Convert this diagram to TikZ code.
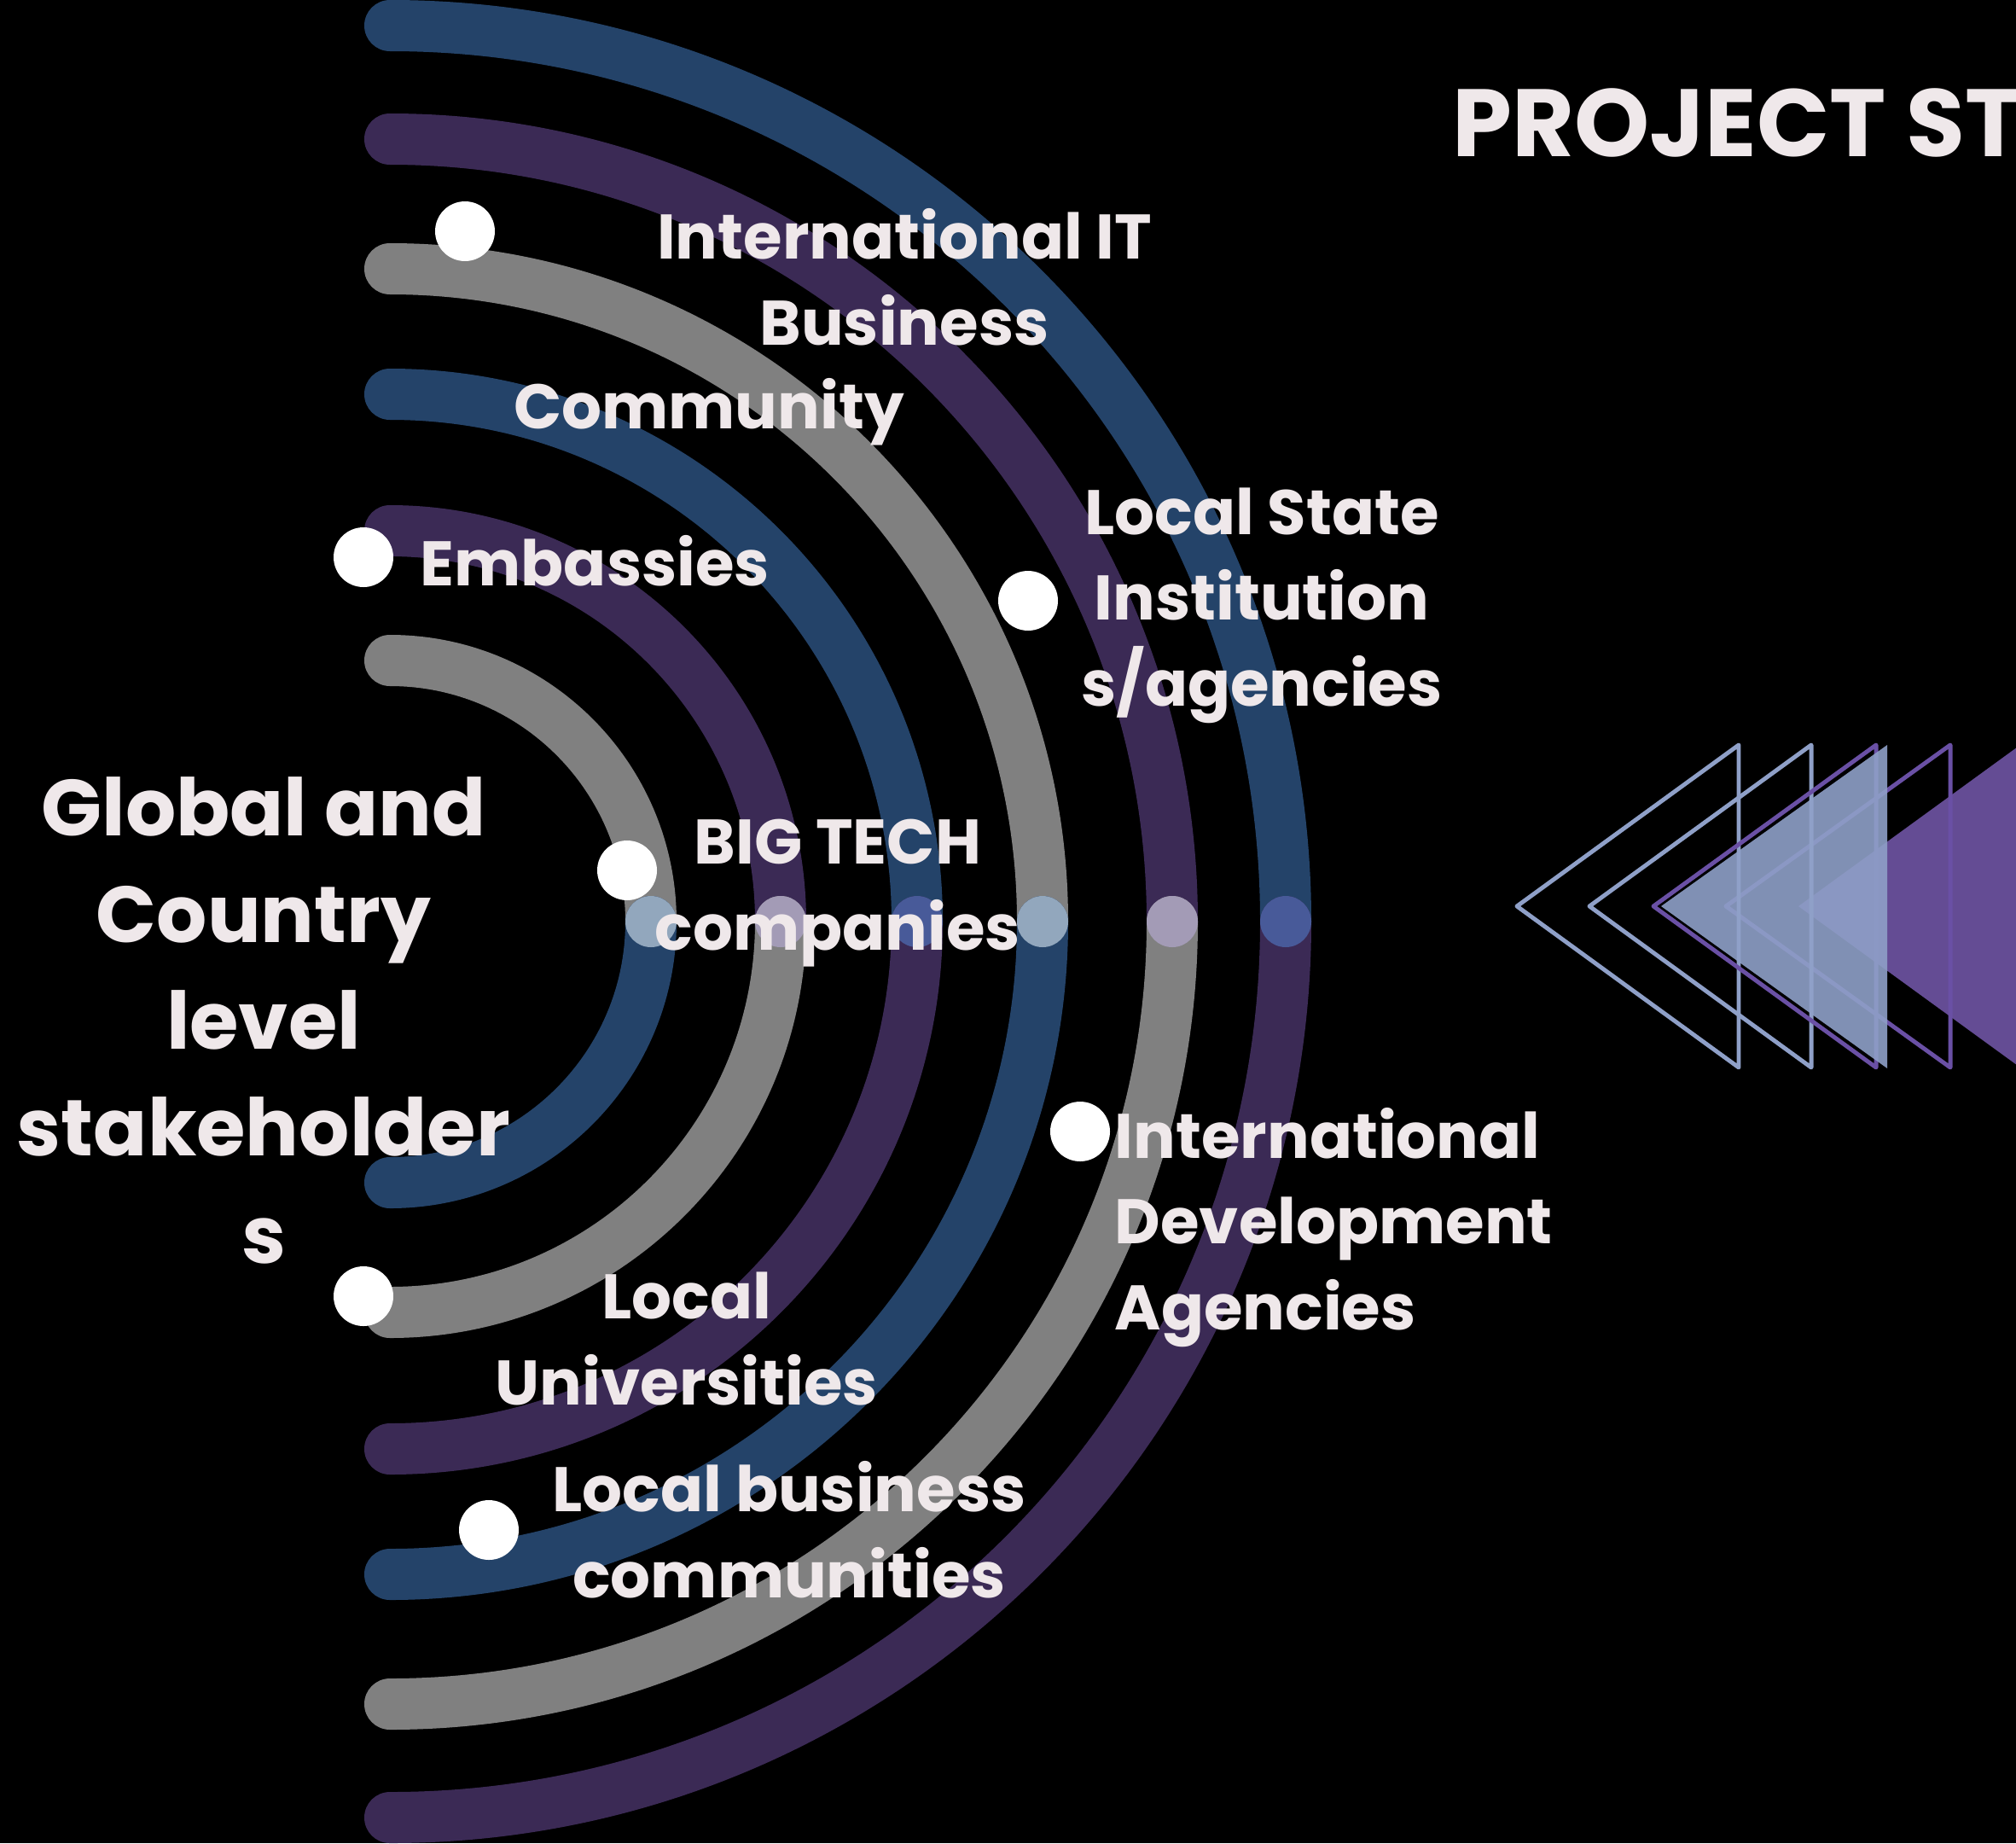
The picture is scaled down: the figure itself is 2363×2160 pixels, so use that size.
\documentclass[tikz,border=0pt]{standalone}
\usepackage{fontspec}
\setmainfont{Poppins}
\usepackage{xcolor}
\usepackage{tikz}
\usetikzlibrary{calc}
\definecolor{txt}{HTML}{EFE8EA}
\definecolor{navy}{HTML}{244369}
\definecolor{plum}{HTML}{3B2A55}
\definecolor{ash}{HTML}{808080}
\definecolor{mistA}{HTML}{92A7BD}
\definecolor{mistB}{HTML}{A39BB6}
\definecolor{mistC}{HTML}{485A99}
\definecolor{chev}{HTML}{8FA0C8}
\definecolor{violet}{HTML}{6A50A5}
\definecolor{violetfill}{HTML}{644C94}
\tikzset{
  band/.style={line width=6mm, line cap=round},
  hub/.style={circle, inner sep=0pt, minimum size=6mm},
  dot/.style={circle, fill=white, inner sep=0pt, minimum size=7mm},
  lab/.style={text=txt, inner sep=0pt, align=center, font=\bfseries\fontsize{21}{28.5}\selectfont},
  big/.style={text=txt, inner sep=0pt, align=center, font=\bfseries\fontsize{26.5}{35.6}\selectfont},
  head/.style={text=txt, inner sep=0pt, font=\bfseries\fontsize{31.9}{38}\selectfont},
  chevron/.style={line width=1.4pt, line join=round},
}

\begin{document}
\begin{tikzpicture}[x=0.1mm, y=0.1mm]
  \fill[black] (0,0) rectangle (2363,-2160);
  \useasboundingbox (0,0) rectangle (2363,-2160);
  \coordinate (O) at (457,-1080);

  % rings: upper half, lower half, hub on the axis
  \foreach \r/\up/\dn/\mist [count=\i] in {306/ash/navy/mistA, 458/plum/ash/mistB,
      618/navy/plum/mistC, 765/ash/navy/mistA, 917/plum/ash/mistB, 1050/navy/plum/mistC}{
    \draw[band, draw=\up] ($(O)+(0,\r)$) arc[start angle=90, end angle=0, radius=\r];
    \draw[band, draw=\dn] ($(O)+(0,-\r)$) arc[start angle=-90, end angle=0, radius=\r];
    \node[hub, fill=\mist] (hub\i) at ($(O)+(\r,0)$) {};
  }

  % markers
  \foreach \n/\p in {itb/{545,-271}, emb/{426,-653}, lsi/{1205,-704}, big/{735,-1020},
      ida/{1266,-1326}, uni/{426,-1519}, lbc/{573,-1793}}
    \node[dot] (dot-\n) at (\p) {};

  % labels (base = baseline of the last line)
  \node[big, anchor=base] (global) at (309,-1480) {Global and\\Country\\level\\stakeholder\\s};
  \node[lab, anchor=base] (itb) at (1060,-404) {International IT\\Business};
  \node[lab, anchor=base] (itc) at (831,-502) {Community};
  \node[lab, anchor=base west] (emb) at (492,-686) {Embassies};
  \node[lab, anchor=base] (lsi) at (1479,-827) {Local State\\Institution\\s/agencies};
  \node[lab, anchor=base] (btc) at (982,-1113) {BIG TECH\\companies};
  \node[lab, anchor=base west, align=left] (ida) at (1306,-1558) {International\\Development\\Agencies};
  \node[lab, anchor=base] (uni) at (805,-1646) {Local\\Universities};
  \node[lab, anchor=base] (lbc) at (925,-1872) {Local business\\communities};
  \node[head, anchor=base west] (title) at (1702,-183) {PROJECT ST};

  % arrow heads on the right
  \fill[violetfill] (2108,-1062) -- (2368,-873) -- (2368,-1251) -- cycle;
  \draw[chevron, violet] (2023,-1062) -- (2286,-873) -- (2286,-1251) -- cycle;
  \foreach \t in {1778,1863}
    \draw[chevron, chev] (\t,-1062) -- (\t+260,-873) -- (\t+260,-1251) -- cycle;
  \draw[chevron, violet] (1938,-1062) -- (2199,-873) -- (2199,-1251) -- cycle;
  \fill[chev, opacity=0.9] (1947,-1062) -- (2212,-873) -- (2212,-1252) -- cycle;
\end{tikzpicture}
\end{document}
